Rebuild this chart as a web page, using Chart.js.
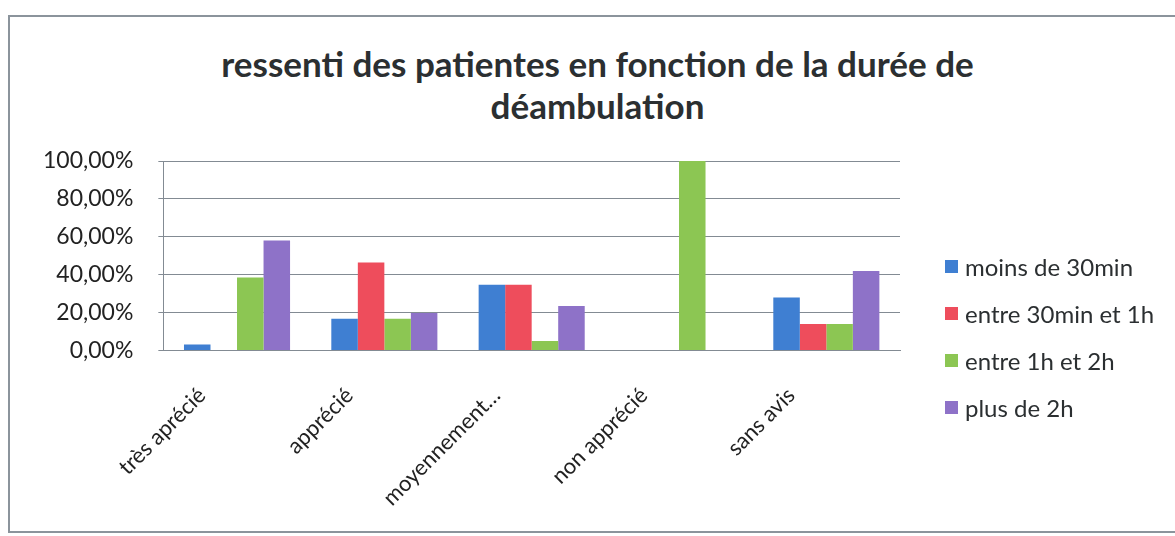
<!DOCTYPE html>
<html lang="fr">
<head>
<meta charset="UTF-8">
<title>ressenti des patientes</title>
<script src="https://cdn.jsdelivr.net/npm/chart.js@4.4.1/dist/chart.umd.min.js"></script>
<style>
    *{margin:0;padding:0;box-sizing:border-box;}
    body{background:#fff;width:1175px;height:536px;overflow:hidden;}
    #wrap{position:relative;width:1175px;height:536px;overflow:hidden;}
    #frame{position:absolute;left:8px;top:15px;width:1180px;height:518px;border:2px solid #8b949c;}
    #box{position:absolute;left:0;top:0;width:1175px;height:560px;}
    #title{position:absolute;left:0;top:42px;width:1195px;text-align:center;font-family:Lato,'Open Sans',sans-serif;font-weight:bold;font-size:35px;line-height:42px;color:#2b2f31;}
    #legend{position:absolute;left:945px;top:243px;list-style:none;font-family:Lato,'Open Sans',sans-serif;font-size:24px;color:#2b2f31;}
    #legend li{height:47px;line-height:34px;display:flex;align-items:center;white-space:nowrap;}
    #legend li span{display:inline-block;width:13px;height:13px;margin-right:7px;}
</style>
</head>
<body>
<div id="wrap">
    <div id="frame"></div>
    <div id="title">ressenti des patientes en fonction de la durée de<br>déambulation</div>
    <div id="box"><canvas id="mycanvas"></canvas></div>
    <ul id="legend"></ul>
</div>
<script>
// catégories (axe x) et séries par durée de déambulation
let categories = ["très aprécié", "apprécié", "moyennement…", "non apprécié", "sans avis"];
let moins30 = [0.032, 0.167, 0.347, 0, 0.28];
let entre30et1h = [0, 0.465, 0.347, 0, 0.14];
let entre1het2h = [0.385, 0.167, 0.05, 1, 0.14];
let plus2h = [0.58, 0.198, 0.235, 0, 0.42];
let seriesNames = ["moins de 30min", "entre 30min et 1h", "entre 1h et 2h", "plus de 2h"];
let colors = ["#3f7fd2", "#ee4d5c", "#8cc653", "#8e72c8"];

let fontFam = "Lato, 'Open Sans', sans-serif";
let gridColor = "#838b93";

let series = [moins30, entre30et1h, entre1het2h, plus2h];
let datasets = series.map(function(d, i){
    return {
        label: seriesNames[i],
        data: d,
        backgroundColor: colors[i],
        borderWidth: 0,
        barPercentage: 1,
        categoryPercentage: 0.72
    };
});

// légende à droite, construite à partir des séries
let lg = document.getElementById("legend");
seriesNames.forEach(function(n, i){
    let li = document.createElement("li");
    li.innerHTML = '<span style="background:' + colors[i] + '"></span>' + n;
    lg.appendChild(li);
});

new Chart(document.getElementById("mycanvas"), {
    type: "bar",
    data: { labels: categories, datasets: datasets },
    options: {
        responsive: true,
        maintainAspectRatio: false,
        animation: false,
        layout: { padding: { left: 18, right: 275, top: 161, bottom: 20 } },
        plugins: {
            legend: { display: false },
            tooltip: { enabled: false }
        },
        scales: {
            x: {
                grid: { display: false, drawTicks: false },
                border: { color: gridColor, width: 1 },
                ticks: {
                    color: "#222",
                    font: { family: fontFam, size: 22 },
                    minRotation: 45,
                    maxRotation: 45,
                    padding: 32,
                    labelOffset: -35
                }
            },
            y: {
                min: 0,
                max: 1,
                grid: { color: gridColor, lineWidth: 1, tickLength: 5 },
                border: { color: gridColor, width: 1 },
                ticks: {
                    stepSize: 0.2,
                    color: "#222",
                    font: { family: fontFam, size: 23 },
                    padding: 25,
                    callback: function(v){
                        return (v * 100).toFixed(2).replace(".", ",") + "%";
                    }
                }
            }
        }
    }
});
</script>
</body>
</html>
